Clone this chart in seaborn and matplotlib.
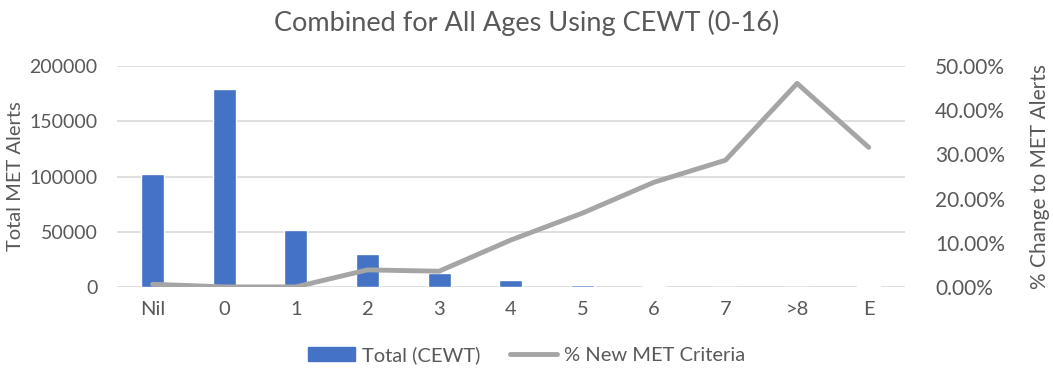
import matplotlib
matplotlib.use("Agg")
import matplotlib.pyplot as plt
import seaborn as sns
import numpy as np
from matplotlib.ticker import FuncFormatter
from matplotlib.patches import Patch
from matplotlib.lines import Line2D

categories = ["Nil", "0", "1", "2", "3", "4", "5", "6", "7", ">8", "E"]
total_cewt = [102500, 178900, 51300, 29600, 12400, 6000, 2100, 500, 0, 0, 1000]
pct_new_met = [0.6, 0.0, 0.0, 3.85, 3.55, 10.6, 16.7, 23.7, 28.7, 46.1, 31.6]

bar_color = "#4472C4"
line_color = "#A5A5A5"
text_color = "#595959"

sns.set_style("white")
plt.rcParams["font.family"] = ["Lato", "DejaVu Sans"]
plt.rcParams["text.color"] = text_color

fig = plt.figure(figsize=(10.53, 3.76), dpi=100)
ax = fig.add_axes([0.111, 0.237, 0.748, 0.587])

sns.barplot(x=categories, y=total_cewt, color=bar_color, width=0.32,
            saturation=1, ax=ax)
ax.set_ylim(0, 200000)
ax.set_yticks(np.arange(0, 200001, 50000))
ax.yaxis.grid(True, color="#D9D9D9", linewidth=1.2)
ax.set_axisbelow(True)
ax.set_ylabel("Total MET Alerts", fontsize=14.5, color=text_color, labelpad=4)
ax.set_xlabel("")
ax.tick_params(axis="both", length=0, labelsize=14.5, labelcolor=text_color)
ax.tick_params(axis="x", pad=10)
ax.tick_params(axis="y", labelsize=14, pad=14)
for s in ax.spines.values():
    s.set_visible(False)

ax2 = ax.twinx()
sns.pointplot(x=categories, y=pct_new_met, color=line_color, markers="",
              linewidth=3.5, ax=ax2)
ax2.set_ylim(0, 50)
ax2.set_xlim(-0.5, len(categories) - 0.5)
ax2.set_yticks(np.arange(0, 51, 10))
ax2.yaxis.set_major_formatter(FuncFormatter(lambda v, p: f"{v:.2f}%"))
ax2.set_ylabel("% Change to MET Alerts", fontsize=15, color=text_color, labelpad=18)
ax2.tick_params(axis="y", length=0, labelsize=15, labelcolor=text_color, pad=22)
for s in ax2.spines.values():
    s.set_visible(False)

fig.suptitle("Combined for All Ages Using CEWT (0-16)", fontsize=19.5,
             color=text_color, y=0.975)

handles = [Patch(color=bar_color, label="Total (CEWT)"),
           Line2D([0], [0], color=line_color, linewidth=3.5, label="% New MET Criteria")]
fig.legend(handles=handles, loc="center", bbox_to_anchor=(0.5, 0.055), ncol=2,
           frameon=False, fontsize=14.5, handlelength=2.3, columnspacing=1.5,
           handletextpad=0.35)

fig.savefig("out.png", dpi=100, facecolor="white")
